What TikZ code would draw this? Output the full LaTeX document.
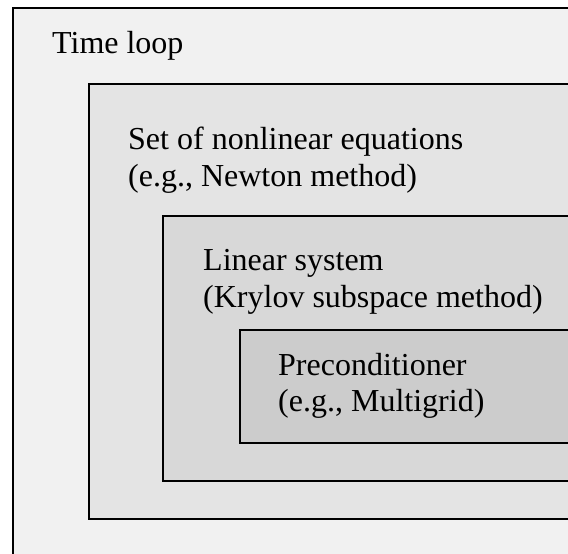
\documentclass[tikz,border=0pt]{standalone}
\usepackage{fontspec}
\setmainfont{Liberation Serif}
\definecolor{shadeA}{HTML}{F1F1F1}
\definecolor{shadeB}{HTML}{E4E4E4}
\definecolor{shadeC}{HTML}{D8D8D8}
\definecolor{shadeD}{HTML}{CCCCCC}
\begin{document}
\begin{tikzpicture}[x=1pt,y=1pt,
  layer/.style={draw=black, line width=2pt, anchor=north west, inner sep=0pt, outer sep=0pt},
  lbl/.style={anchor=base west, inner sep=0pt, font=\fontsize{32}{37}\selectfont}]
\useasboundingbox (0,0) rectangle (568,554);
\clip (0,0) rectangle (568,554);
\fill[white] (0,0) rectangle (568,554);
% nested levels of the solver, outermost first
\node[layer, fill=shadeA, minimum width=607pt, minimum height=596pt] (loop) at (13,546) {};
\node[layer, fill=shadeB, minimum width=531pt, minimum height=435pt] (newton) at (89,470) {};
\node[layer, fill=shadeC, minimum width=457pt, minimum height=265pt] (krylov) at (163,338) {};
\node[layer, fill=shadeD, minimum width=380pt, minimum height=113pt] (precond) at (240,224) {};
% labels
\node[lbl] (loopT) at (52,500) {Time loop};
\node[lbl] (newtonT1) at (128,404) {Set of nonlinear equations};
\node[lbl] (newtonT2) at (128,367) {(e.g., Newton method)};
\node[lbl] (krylovT1) at (203,283) {Linear system};
\node[lbl] (krylovT2) at (203,246) {(Krylov subspace method)};
\node[lbl] (precondT1) at (278,178) {Preconditioner};
\node[lbl] (precondT2) at (278,142) {(e.g., Multigrid)};
\end{tikzpicture}
\end{document}
